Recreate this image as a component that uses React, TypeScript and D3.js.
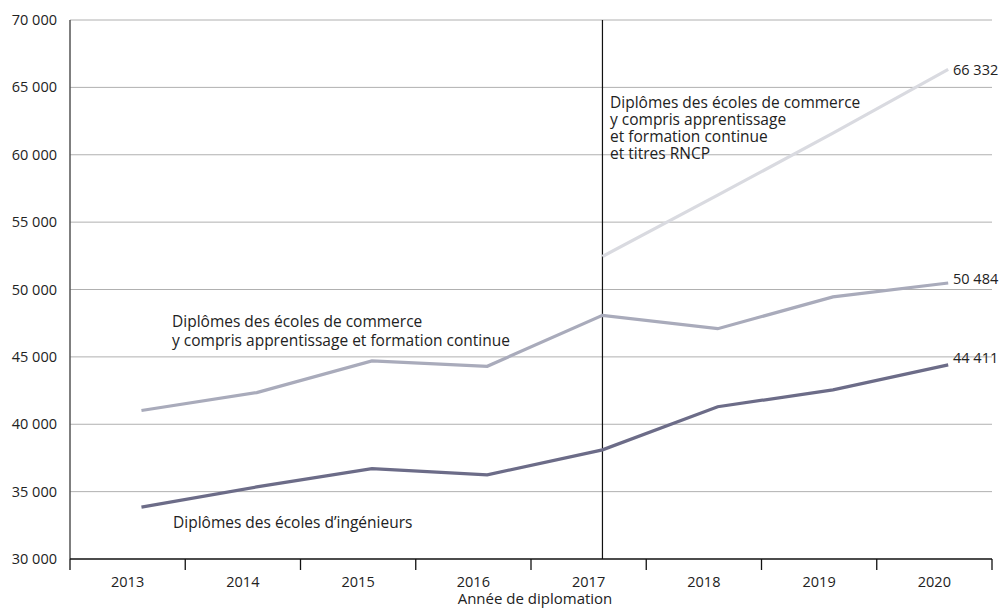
import React from "react";
import * as d3 from "d3";

const years = ["2013", "2014", "2015", "2016", "2017", "2018", "2019", "2020"];
const ingenieurs = [33850, 35350, 36700, 36250, 38100, 41300, 42550, 44411];
const commerce = [41020, 42350, 44700, 44300, 48080, 47090, 49450, 50484];
const rncpYears = ["2017", "2018", "2019", "2020"];
const rncp = [52450, 57000, 61600, 66332];
const yTicks = [30000, 35000, 40000, 45000, 50000, 55000, 60000, 65000, 70000];

const W = 1001, H = 609;
const left = 70, right = 992, top = 20, bottom = 559;
const font = "'Open Sans', sans-serif";
const fmt = (v: number) => d3.format(",")(v).replace(/,/g, " ");
const NUM = 14.5;
const TXT = 15.5;

export default function App() {
  const x = d3.scaleBand<string>().domain(years).range([left, right]).padding(0);
  const bw = x.bandwidth();
  const px = (yr: string) => (x(yr) as number) + bw * 0.62;
  const y = d3.scaleLinear().domain([30000, 70000]).range([bottom, top]);
  const line = d3.line<[string, number]>().x((d) => px(d[0])).y((d) => y(d[1]));
  const series = [
    { yrs: years, vals: ingenieurs, color: "#6c6c88" },
    { yrs: years, vals: commerce, color: "#a9abbb" },
    { yrs: rncpYears, vals: rncp, color: "#d9dae0" },
  ];
  return (
    <svg width={W} height={H} style={{ position: "absolute", left: 0, top: 0, background: "#fff" }} fontFamily={font}>
      {yTicks.map((t) => (
        <g key={t}>
          {t > 30000 && <line x1={left} x2={right} y1={y(t)} y2={y(t)} stroke="#b0b0b0" strokeWidth={1} />}
          <text x={57} y={y(t)} dy="0.35em" textAnchor="end" fontSize={NUM} fill="#222">{fmt(t)}</text>
        </g>
      ))}
      <line x1={left} x2={left} y1={top} y2={bottom} stroke="#555" strokeWidth={1.5} />
      <line x1={px("2017")} x2={px("2017")} y1={top} y2={bottom} stroke="#111" strokeWidth={1.2} />
      {series.map((s, i) => (
        <path key={i} d={line(s.yrs.map((yr, j) => [yr, s.vals[j]] as [string, number])) as string} fill="none" stroke={s.color} strokeWidth={3.2} />
      ))}
      <line x1={left} x2={right} y1={bottom} y2={bottom} stroke="#111" strokeWidth={1.5} />
      {years.concat(["end"]).map((yr, i) => {
        const tx = left + i * bw;
        return <line key={yr} x1={tx} x2={tx} y1={bottom} y2={bottom + 11} stroke="#111" strokeWidth={1.3} />;
      })}
      {years.map((yr) => (
        <text key={yr} x={(x(yr) as number) + bw / 2} y={587} textAnchor="middle" fontSize={NUM} fill="#222">{yr}</text>
      ))}
      <text x={(left + right) / 2 + 4} y={604} textAnchor="middle" fontSize={TXT - 0.5} fill="#222">Année de diplomation</text>
      <text x={953} y={y(rncp[3])} dy="0.35em" fontSize={NUM} fill="#222">{fmt(rncp[3])}</text>
      <text x={953} y={y(commerce[7])} dy="0.1em" fontSize={NUM} fill="#222">{fmt(commerce[7])}</text>
      <text x={953} y={y(ingenieurs[7])} dy="-0.1em" fontSize={NUM} fill="#222">{fmt(ingenieurs[7])}</text>
      <text x={173} y={528} fontSize={TXT} fill="#222">Diplômes des écoles d’ingénieurs</text>
      <text x={172} y={327} fontSize={TXT} fill="#222">
        <tspan x={172}>Diplômes des écoles de commerce</tspan>
        <tspan x={172} dy={18.5}>y compris apprentissage et formation continue</tspan>
      </text>
      <text x={610} y={108} fontSize={TXT} fill="#222">
        <tspan x={610}>Diplômes des écoles de commerce</tspan>
        <tspan x={610} dy={17}>y compris apprentissage</tspan>
        <tspan x={610} dy={17}>et formation continue</tspan>
        <tspan x={610} dy={17}>et titres RNCP</tspan>
      </text>
    </svg>
  );
}
